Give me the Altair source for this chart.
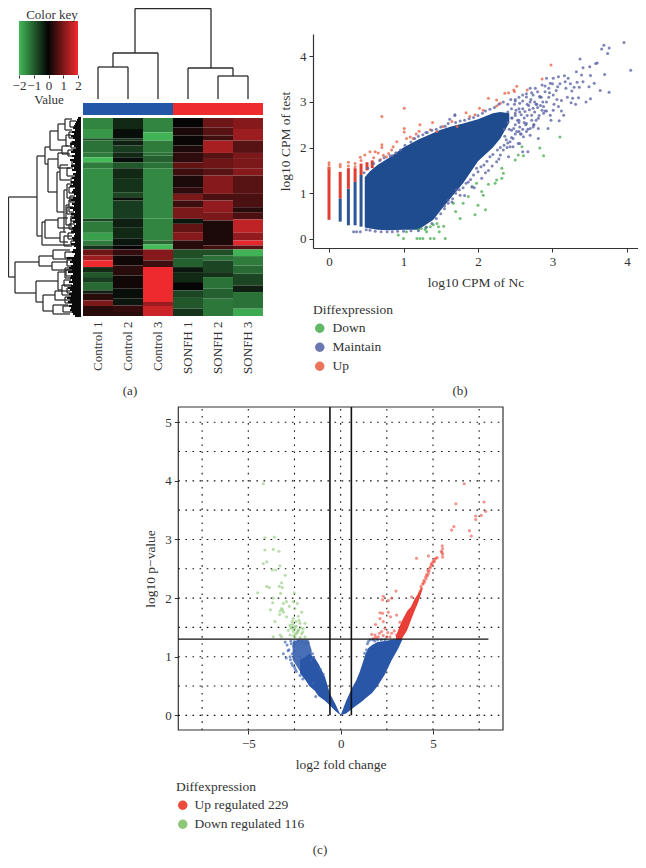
import altair as alt
import pandas as pd

FONT = "Liberation Serif"
INK = "#333333"
W, H = 630, 852


def px(v):
    return v - 8


# ---------- (a) heat map ----------
samples = ["Control 1", "Control 2", "Control 3", "SONFH 1", "SONFH 2", "SONFH 3"]
groups = ["Control", "Control", "Control", "SONFH", "SONFH", "SONFH"]

c1_ends = [50, 78, 84, 120, 135, 150, 168, 320, 328, 362, 385, 400, 412, 430, 445, 465, 480, 495, 510, 535, 545, 565, 582, 612]
c1_vals = [-1.4, -1.6, -0.8, -1.2, -1.3, -2.0, -1.3, -1.5, -0.7, -1.3, -1.7, -1.3, -0.5, 0.9, 1.3, 2.0, -0.4, -0.9, -0.6, -1.1, -0.3, 0.3, 1.0, 0.3]
c2_ends = [50, 78, 85, 100, 120, 135, 150, 168, 200, 240, 255, 265, 320, 345, 380, 400, 412, 430, 460, 490, 530, 560, 580, 600, 612]
c2_vals = [-0.4, -0.1, -0.5, -0.3, -0.6, -0.4, -0.1, -0.9, -0.4, -0.5, -0.7, -0.15, -0.6, -0.3, -0.4, -0.2, 0.0, 0.4, 0.1, 0.3, 0.1, -0.1, -0.2, 0.4, 0.3]
c3_ends = [60, 85, 120, 130, 150, 168, 320, 385, 397, 412, 445, 465, 570, 582, 612]
c3_vals = [-1.4, -1.9, -1.3, -1.2, -1.0, -1.2, -1.45, -1.4, -1.1, -2.0, 1.1, 0.5, 2.0, 1.3, 1.7]
s1_ends = [45, 70, 100, 120, 150, 168, 190, 225, 245, 265, 285, 320, 335, 360, 385, 412, 440, 465, 480, 510, 535, 555, 590, 612]
s1_vals = [0.0, 0.2, 0.05, 0.2, 0.35, 0.8, 0.5, 0.2, 0.35, 1.0, 0.5, 1.0, -0.2, 0.8, 1.1, 0.3, -0.8, -1.0, -0.2, -0.4, 0.0, -0.7, -0.9, -0.5]
s2_ends = [45, 70, 85, 122, 140, 168, 190, 245, 265, 300, 325, 400, 412, 430, 445, 480, 495, 530, 560, 612]
s2_vals = [0.9, 0.7, 0.5, 1.4, 0.7, 0.9, 0.7, 1.1, 0.6, 1.2, 1.0, 0.2, 0.5, -0.8, -1.2, -0.7, -0.5, -1.2, -1.0, -1.25]
s3_ends = [50, 85, 122, 140, 168, 190, 245, 285, 300, 322, 362, 385, 400, 412, 432, 460, 485, 520, 540, 590, 612]
s3_vals = [1.1, 1.3, 0.7, 1.0, 1.0, 1.1, 0.7, 0.6, 0.3, 0.6, 1.6, 1.2, 1.9, 0.7, -1.9, -1.3, -1.1, -0.7, -0.3, -1.2, -1.8]
heat_top = 17
heat_bottom = 612

heat_rows = []
for name, ends, vals in zip(samples, [c1_ends, c2_ends, c3_ends, s1_ends, s2_ends, s3_ends],
                            [c1_vals, c2_vals, c3_vals, s1_vals, s2_vals, s3_vals]):
    start = heat_top
    for e, v in zip(ends, vals):
        heat_rows.append({"sample": name, "y0": start, "y1": e, "v": v})
        start = e
heat_df = pd.DataFrame(heat_rows)

key_values = [-2, -1.9, -1.8, -1.7, -1.6, -1.5, -1.4, -1.3, -1.2, -1.1, -1, -0.9, -0.8, -0.7, -0.6, -0.5, -0.4, -0.3, -0.2, -0.1,
              0, 0.1, 0.2, 0.3, 0.4, 0.5, 0.6, 0.7, 0.8, 0.9, 1, 1.1, 1.2, 1.3, 1.4, 1.5, 1.6, 1.7, 1.8, 1.9, 2]
key_df = pd.DataFrame({"v": key_values,
                       "a": [max(-2, v - 0.08) for v in key_values],
                       "b": [min(2, v + 0.08) for v in key_values]})
heat_color = alt.Scale(domain=[-2, 0, 2], range=["#45bb5a", "#050505", "#ee2a2e"], clamp=True, interpolate="rgb")

sample_x = alt.Scale(domain=samples, range=[px(83), px(263)], paddingInner=0, paddingOuter=0)
heat_y = alt.Scale(domain=[heat_top, heat_bottom], range=[px(118), px(316)], nice=False, zero=False)

heat = alt.Chart(heat_df).mark_rect().encode(
    x=alt.X("sample:N", scale=sample_x, sort=samples, title=None,
            axis=alt.Axis(orient="bottom", offset=px(316) - H, labelAngle=270, domain=False, ticks=False,
                          labelPadding=5, labelFontSize=13, labelFont=FONT, labelColor=INK,
                          labelAlign="right", labelBaseline="middle")),
    y=alt.Y("y0:Q", scale=heat_y, axis=None),
    y2="y1:Q",
    color=alt.Color("v:Q", scale=heat_color, legend=None),
)

bar_df = pd.DataFrame({"sample": samples, "group": groups})
bar = alt.Chart(bar_df).mark_rect().encode(
    x=alt.X("sample:N", scale=sample_x, sort=samples, axis=None),
    y=alt.value(px(103)),
    y2=alt.value(px(115)),
    color=alt.Color("group:N", scale=alt.Scale(domain=["Control", "SONFH"], range=["#2356a6", "#ee2b2f"]), legend=None),
)

key = alt.Chart(key_df).mark_rect().encode(
    x=alt.X("a:Q", scale=alt.Scale(domain=[-2, 2], range=[px(19), px(78)], nice=False, zero=False),
            title="Value",
            axis=alt.Axis(orient="bottom", offset=px(75) - H, values=[-2, -1, 0, 1, 2], format="d", tickSize=3, grid=False,
                          domain=False, tickColor=INK, labelFont=FONT, labelFontSize=13, labelColor=INK,
                          labelPadding=1, labelFlush=False, labelOverlap=False,
                          titleFont=FONT, titleFontSize=13, titleFontWeight="normal", titleColor=INK, titlePadding=1)),
    x2="b:Q",
    y=alt.value(px(21)),
    y2=alt.value(px(75)),
    color=alt.Color("v:Q", scale=heat_color, legend=None),
)

# dendrograms: (height of the join, position a, position b, height of a, height of b)
col_merges = [
    (32, 98, 128, 0, 0),
    (46, 113, 158, 32, 0),
    (23, 218, 248, 0, 0),
    (31, 188, 233, 0, 23),
    (90.5, 135, 211, 46, 31),
]
row_merges = [
    (72.5, 197, 277, 44, 66), (44, 156, 236, 36, 39), (36, 147, 164, 31, 33), (31, 131, 150, 23, 19),
    (23, 124, 140, 16, 15), (16, 119, 130, 9, 9), (15, 135, 146, 10, 9), (19, 146, 154, 13, 11),
    (33, 159, 192, 23, 24), (23, 153, 168, 13, 11), (24, 172, 212, 21, 17), (21, 165, 180, 13, 11),
    (17, 190, 232, 14, 15), (14, 184, 198, 9, 8), (15, 205, 225, 12, 10), (12, 200, 212, 6, 7),
    (10, 218, 230, 6, 6),
    (39, 222, 245, 36, 11), (36, 220, 238, 23, 21), (23, 218, 228, 13, 11), (21, 232, 242, 17, 13),
    (17, 236, 246, 9, 9),
    (66, 262, 293, 42, 45), (42, 256, 266, 28, 29), (28, 250, 259, 11, 11), (29, 262, 270, 13, 9),
    (45, 281, 302, 23, 38), (23, 272, 290, 16, 19), (16, 268, 278, 7, 7), (19, 285, 295, 9, 9),
    (38, 295, 311, 26, 28), (26, 291, 300, 11, 9), (28, 305, 314, 13, 11),
    (11, 121, 127, 5, 5), (12, 132, 138, 6, 5), (10, 142, 148, 5, 4), (13, 150, 156, 7, 5), (9, 160, 165, 4, 4),
    (14, 168, 176, 8, 6), (10, 178, 183, 5, 4), (12, 187, 193, 6, 5), (11, 196, 202, 6, 4), (14, 207, 214, 8, 6),
    (10, 216, 221, 5, 4), (12, 224, 229, 6, 5), (13, 233, 239, 7, 5), (10, 241, 245, 5, 4), (16, 252, 258, 9, 8),
    (14, 260, 266, 8, 7), (15, 270, 276, 9, 8), (17, 280, 286, 10, 9), (14, 288, 293, 8, 7), (16, 297, 303, 10, 8),
    (18, 306, 312, 11, 9),
]
leaf_depth = [3, 4, 5, 6, 7, 8, 6, 9, 7, 10, 8, 6, 9, 11, 7, 5, 8, 10, 6, 9,
              7, 11, 8, 6, 10, 7, 9, 5, 8, 6, 9, 7, 10, 8, 11, 6, 8, 9, 7, 5,
              8, 10, 6, 9, 7, 11, 8, 6, 10, 7, 9, 6, 8, 5, 7, 9, 8, 10, 6, 7,
              9, 8, 6, 10, 7, 5, 8, 9, 6, 7, 14, 9, 11, 8, 10, 12, 9, 13, 8, 10,
              11, 9, 12, 8, 10, 13, 11, 9, 12, 10, 14, 11, 13, 9, 12, 10, 11, 9, 8, 6]

dendro_col_rows = []
for h, a, b, ha, hb in col_merges:
    dendro_col_rows += [{"x": a, "x2": b, "h": h, "h2": h}, {"x": a, "x2": a, "h": ha, "h2": h}, {"x": b, "x2": b, "h": hb, "h2": h}]
dendro_col = alt.Chart(pd.DataFrame(dendro_col_rows)).mark_rule(color="#2b2b2b", strokeWidth=1.3).encode(
    x=alt.X("x:Q", scale=alt.Scale(domain=[83, 263], range=[px(83), px(263)], nice=False, zero=False), axis=None),
    x2="x2:Q",
    y=alt.Y("h:Q", scale=alt.Scale(domain=[0, 95], range=[px(99), px(4)], nice=False, zero=False), axis=None),
    y2="h2:Q",
)

row_x = alt.Scale(domain=[0, 80], range=[px(81), px(1)], nice=False, zero=False)
row_y = alt.Scale(domain=[118, 316], range=[px(118), px(316)], nice=False, zero=False)
dendro_row_rows = []
for h, a, b, ha, hb in row_merges:
    dendro_row_rows += [{"h": h, "h2": h, "r": a, "r2": b}, {"h": ha, "h2": h, "r": a, "r2": a}, {"h": hb, "h2": h, "r": b, "r2": b}]
dendro_row = alt.Chart(pd.DataFrame(dendro_row_rows)).mark_rule(color="#2b2b2b", strokeWidth=1.25).encode(
    x=alt.X("h:Q", scale=row_x, axis=None),
    x2="h2:Q",
    y=alt.Y("r:Q", scale=row_y, axis=None),
    y2="r2:Q",
)
leaf_df = pd.DataFrame({"h": [0] * len(leaf_depth), "h2": leaf_depth, "r": [118 + 2 * i for i in range(len(leaf_depth))]})
leaves = alt.Chart(leaf_df).mark_rule(color="#0c0c0c", strokeWidth=2.1).encode(
    x=alt.X("h:Q", scale=row_x, axis=None),
    x2="h2:Q",
    y=alt.Y("r:Q", scale=row_y, axis=None),
)
layer_rows = alt.layer(dendro_row, leaves)

# ---------- (b) scatter ----------
band_x = [0.48, 0.55, 0.65, 0.8, 1.0, 1.2, 1.4, 1.5, 1.65, 1.8, 2.0, 2.2, 2.3, 2.42]
band_hi = [1.35, 1.48, 1.62, 1.77, 2.0, 2.18, 2.32, 2.39, 2.47, 2.53, 2.62, 2.75, 2.78, 2.75]
band_lo = [0.25, 0.23, 0.2, 0.19, 0.2, 0.2, 0.42, 0.63, 0.93, 1.22, 1.7, 2.0, 2.2, 2.55]

stripe_m_x = [0.15, 0.26, 0.35, 0.43]
stripe_m_lo = [0.38, 0.3, 0.3, 0.27]
stripe_m_hi = [0.89, 1.1, 1.25, 1.4]
stripe_u_x = [0.0, 0.15, 0.26, 0.35, 0.43, 0.51, 0.58]
stripe_u_lo = [0.42, 0.89, 1.1, 1.25, 1.4, 1.5, 1.55]
stripe_u_hi = [1.58, 1.47, 1.55, 1.55, 1.65, 1.68, 1.72]

up_x = [0.71, 1.01, 2.98, 1.01, 1.01, 1.22, 1.21, 1.39, 1.36, 1.53, 1.65, 1.72, 0.91, 1.04, 1.09, 0.71, 0.71, 0.84, 0.77, 0.55,
        0.62, 0.66, 0.48, 0.42, 1.89, 2.02, 2.07, 2.14, 2.25, 2.36, 2.41, 2.49, 2.52, 2.48, 2.66, 2.86, 2.3, 2.25, 1.45, 1.13,
        0.0, 0.0, 0.0, 0.15, 0.15, 0.26, 0.26, 0.35, 0.35, 0.43, 0.6, 0.69, 0.73, 0.8, 0.86, 1.17, 1.84, 1.96]
up_y = [2.68, 2.86, 3.81, 2.42, 2.34, 2.5, 2.36, 2.55, 2.39, 2.46, 2.57, 2.46, 2.13, 2.2, 2.23, 2.06, 2.0, 1.95, 1.8, 1.91,
        1.91, 1.88, 1.84, 1.79, 2.68, 2.86, 2.82, 3.08, 3.04, 3.19, 3.2, 3.23, 3.34, 3.26, 3.26, 3.5, 2.97, 2.91, 2.35, 2.2,
        1.62, 1.67, 1.54, 1.58, 1.63, 1.6, 1.68, 1.58, 1.65, 1.72, 1.78, 1.74, 1.83, 1.87, 2.02, 2.3, 2.76, 2.72]
down_x = [1.0, 0.93, 1.18, 1.22, 1.26, 1.36, 1.41, 1.56, 1.04, 1.2, 1.24, 1.29, 1.31, 1.36, 1.4, 1.31, 1.45, 1.47, 1.54, 1.48,
          1.76, 1.96, 2.1, 1.7, 1.8, 1.67, 1.87, 2.0, 2.07, 2.05, 1.92, 1.98, 2.14, 2.23, 2.25, 2.32, 2.34, 2.32, 2.5, 2.54,
          2.61, 2.59, 2.83, 2.88, 3.1]
down_y = [0.01, 0.09, 0.01, 0.01, 0.01, 0.01, 0.01, 0.01, 0.16, 0.2, 0.23, 0.21, 0.16, 0.27, 0.31, 0.26, 0.34, 0.27, 0.28, 0.16,
          0.45, 0.53, 0.64, 0.6, 0.78, 0.78, 0.93, 0.74, 0.96, 1.04, 1.15, 1.22, 1.2, 1.22, 1.29, 1.33, 1.44, 1.55, 1.73, 1.84,
          1.82, 2.02, 1.99, 1.82, 2.23]
keep_x = [3.96, 4.05, 3.69, 3.76, 3.66, 3.74, 3.37, 3.6, 3.58, 3.32, 3.41, 3.5, 3.39, 3.51, 3.7, 3.33, 3.41, 3.56, 3.49, 3.64,
          3.76, 3.45, 3.51, 3.35, 3.31, 3.25, 3.27, 3.29, 3.36, 3.26, 2.92, 3.01, 3.08, 3.16, 3.21, 3.17, 3.07, 2.97, 2.86, 2.77,
          2.7, 2.9, 3.01, 2.83, 2.76, 2.65, 2.56, 2.92, 3.06, 3.12, 3.08, 3.15, 3.01, 2.97, 2.88, 2.81, 2.72, 2.63, 2.51, 3.09,
          2.94, 2.81, 2.7, 2.81, 2.61, 2.56, 2.43, 2.47, 2.74, 2.65, 2.56, 2.45, 2.86, 2.74, 2.41, 2.25, 2.14, 2.05, 1.92, 1.76,
          1.65, 1.55, 2.6, 2.67, 2.54, 2.38, 2.43, 2.3, 2.0, 1.87, 1.71, 1.6, 1.69, 2.5, 2.55, 2.6, 2.66, 2.72, 2.8, 2.87,
          2.53, 2.58, 2.64, 2.69, 2.78, 2.84, 2.9, 2.96, 2.49, 2.42, 2.36, 2.47, 2.52, 2.57, 2.62, 2.67, 2.71, 2.75, 2.79, 2.83,
          2.5, 2.55, 2.46, 2.34, 2.28, 2.19, 2.1, 1.95, 1.82, 2.39, 0.9, 0.85, 1.3, 1.62,
          1.1, 1.15, 1.2, 1.26, 1.32, 1.38, 1.44, 1.5, 1.56, 1.6, 1.69, 1.7, 1.76, 1.82, 1.88, 1.94, 2.0, 2.06, 2.1, 2.16,
          2.22, 2.28, 2.34, 2.4, 2.44, 2.5, 2.55,
          1.5, 1.55, 1.6, 1.66, 1.7, 1.75, 1.8, 1.84, 1.9, 1.94, 1.98, 2.04, 2.08, 2.12, 2.16, 2.2, 2.26, 2.3, 2.35, 2.4,
          2.45, 2.5, 2.55, 2.6, 2.65, 2.7, 2.75,
          2.35, 2.4, 2.45, 2.4, 2.45, 2.5, 2.55, 2.5, 2.56, 2.6, 2.62, 2.66, 2.68, 2.72, 2.76, 2.78, 2.82, 2.85, 2.88, 2.92,
          2.95, 2.98, 3.02, 3.05, 3.1, 3.12, 3.18, 3.2, 3.24, 2.7, 2.74, 2.6, 2.65, 2.8, 2.95, 3.0, 2.9, 2.58, 2.48,
          0.33, 0.37, 0.42, 0.5, 0.55, 0.62, 0.7, 0.78, 0.85, 0.92, 1.0, 1.1, 1.2, 1.3, 1.38, 1.44,
          0.47, 0.52, 0.6, 0.68, 0.74, 0.82, 0.9, 0.96, 1.02]
keep_y = [4.3, 3.69, 4.24, 4.18, 4.16, 4.06, 3.94, 3.85, 3.84, 3.66, 3.75, 3.77, 3.59, 3.58, 3.6, 3.43, 3.44, 3.41, 3.33, 3.25,
          3.21, 3.0, 3.07, 3.09, 2.95, 2.98, 3.08, 3.32, 3.32, 3.24, 3.52, 3.52, 3.55, 3.57, 3.52, 3.44, 3.33, 3.41, 3.37, 3.3,
          3.3, 3.22, 3.15, 3.11, 3.0, 3.11, 2.97, 3.0, 3.05, 3.03, 2.9, 2.71, 2.82, 2.71, 2.75, 2.64, 2.71, 2.79, 2.82, 2.59,
          2.42, 2.42, 2.27, 2.2, 2.24, 2.09, 2.13, 2.02, 2.45, 2.53, 2.45, 2.38, 2.82, 2.86, 1.8, 1.69, 1.5, 1.33, 1.14, 0.96,
          0.81, 0.66, 1.91, 1.91, 2.09, 2.17, 2.02, 1.84, 1.47, 1.25, 1.07, 0.78, 2.7, 3.05, 2.85, 3.15, 2.95, 3.2, 2.88, 3.0,
          2.6, 2.72, 2.5, 2.83, 2.6, 2.92, 2.8, 3.2, 2.95, 2.4, 2.25, 2.2, 2.35, 2.3, 2.65, 2.4, 3.05, 2.5, 2.95, 3.12,
          2.75, 2.55, 2.65, 1.95, 1.75, 1.6, 1.45, 1.12, 0.95, 2.0, 1.88, 1.82, 2.33, 2.62,
          2.12, 2.2, 2.25, 2.28, 2.33, 2.38, 2.4, 2.45, 2.47, 2.53, 2.72, 2.55, 2.58, 2.6, 2.63, 2.66, 2.7, 2.75, 2.8, 2.84,
          2.88, 2.95, 3.0, 2.95, 3.05, 3.02, 3.1,
          0.55, 0.72, 0.85, 0.88, 1.0, 1.08, 1.12, 1.22, 1.3, 1.4, 1.55, 1.58, 1.62, 1.7, 1.8, 1.85, 1.95, 2.0, 2.05, 2.1,
          2.22, 2.3, 2.35, 2.4, 2.35, 2.42, 2.5,
          2.4, 2.55, 2.65, 2.78, 2.85, 2.5, 2.6, 2.7, 2.78, 2.85, 2.55, 2.7, 2.92, 2.6, 2.78, 2.95, 2.7, 3.1, 2.9, 2.8,
          3.1, 2.6, 2.95, 3.25, 3.4, 2.8, 3.3, 3.1, 3.4, 3.0, 3.15, 3.02, 3.18, 3.22, 3.3, 3.4, 3.35, 2.3, 2.42,
          0.16, 0.16, 0.16, 0.2, 0.19, 0.17, 0.16, 0.16, 0.16, 0.17, 0.17, 0.18, 0.18, 0.25, 0.34, 0.45,
          1.45, 1.55, 1.65, 1.72, 1.78, 1.82, 1.88, 1.95, 2.05]

x_b = alt.Scale(domain=[-0.215, 4.148], range=[px(313), px(638)], nice=False, zero=False)
y_b = alt.Scale(domain=[-0.197, 4.486], range=[px(248), px(34)], nice=False, zero=False)

scatter_axis_x = alt.Axis(orient="bottom", offset=px(248) - H, values=[0, 1, 2, 3, 4], format="d", grid=False, domainColor=INK,
                          domainWidth=1.2, tickColor=INK, tickSize=4, labelFont=FONT, labelFontSize=13, labelColor=INK,
                          labelPadding=3, titleFont=FONT, titleFontSize=13.5, titleFontWeight="normal", titleColor=INK,
                          titlePadding=7)
scatter_axis_y = alt.Axis(orient="left", offset=-px(313), values=[0, 1, 2, 3, 4], format="d", grid=False, domainColor=INK,
                          domainWidth=1.2, tickColor=INK, tickSize=4, labelFont=FONT, labelFontSize=13, labelColor=INK,
                          labelPadding=3, titleFont=FONT, titleFontSize=13.5, titleFontWeight="normal", titleColor=INK,
                          titlePadding=7)

band_df = pd.DataFrame({"x": band_x, "hi": band_hi, "lo": band_lo})
b_band = alt.Chart(band_df).mark_area(color="#1f4c8f").encode(
    x=alt.X("x:Q", scale=x_b, title="log10 CPM of Nc", axis=scatter_axis_x),
    y=alt.Y("hi:Q", scale=y_b, title="log10 CPM of test", axis=scatter_axis_y),
    y2="lo:Q",
)


def stripes(xs, lo, hi, colour):
    return alt.Chart(pd.DataFrame({"x": xs, "lo": lo, "hi": hi})).mark_rule(strokeWidth=3, color=colour).encode(
        x=alt.X("x:Q", scale=x_b, axis=None),
        y=alt.Y("lo:Q", scale=y_b, axis=None),
        y2="hi:Q",
    )


b_stripes_m = stripes(stripe_m_x, stripe_m_lo, stripe_m_hi, "#2b5595")
b_stripes_u = stripes(stripe_u_x, stripe_u_lo, stripe_u_hi, "#e23f33")
points_b = pd.DataFrame({
    "x": up_x + down_x + keep_x,
    "y": up_y + down_y + keep_y,
    "Diffexpression": ["Up"] * len(up_x) + ["Down"] * len(down_x) + ["Maintain"] * len(keep_x),
})
b_points = alt.Chart(points_b).mark_circle(size=9, opacity=0.8).encode(
    x=alt.X("x:Q", scale=x_b, axis=None),
    y=alt.Y("y:Q", scale=y_b, axis=None),
    color=alt.Color("Diffexpression:N",
                    scale=alt.Scale(domain=["Down", "Maintain", "Up"], range=["#4fb058", "#5c67a6", "#e8654a"]),
                    legend=alt.Legend(orient="none", legendX=px(313), legendY=px(303), title="Diffexpression",
                                      titleFont=FONT, titleFontSize=13.5, titleFontWeight="normal", titleColor=INK,
                                      labelFont=FONT, labelFontSize=13.5, labelColor=INK, symbolSize=90,
                                      symbolOpacity=0.9, symbolType="circle", rowPadding=4, titlePadding=5, labelOffset=6)),
)
layer_b = alt.layer(b_band, b_stripes_m, b_stripes_u, b_points).resolve_axis(x="independent", y="independent")

# ---------- (c) volcano ----------
x_c = alt.Scale(domain=[-8.79, 8.79], range=[px(178.3), px(503)], nice=False, zero=False)
y_c = alt.Scale(domain=[-0.25, 5.26], range=[px(730), px(407)], nice=False, zero=False)

grid_x = [-7.5, -5, -2.5, 0, 2.5, 5, 7.5]
grid_y = [0, 0.5, 1, 1.5, 2, 2.5, 3, 3.5, 4, 4.5, 5]
x_min, x_max, y_min, y_max = -8.79, 8.79, -0.25, 5.26

right_x = [0, 0.3, 0.6, 0.85, 1.04, 1.2, 1.35, 1.5, 1.7, 2.0, 2.4, 2.76, 3.12, 3.35]
right_hi = [0, 0.25, 0.46, 0.6, 0.75, 0.9, 1.05, 1.15, 1.2, 1.25, 1.27, 1.29, 1.3, 1.3]
right_lo = [0, 0.03, 0.11, 0.17, 0.21, 0.25, 0.29, 0.33, 0.38, 0.5, 0.7, 0.94, 1.14, 1.3]
left_x = [-2.2, -1.9, -1.7, -1.4, -1.2, -0.85, -0.58, -0.3, 0]
left_hi = [0.95, 1.0, 1.05, 0.98, 0.88, 0.66, 0.37, 0.2, 0]
left_lo = [0.72, 0.6, 0.5, 0.42, 0.33, 0.25, 0.17, 0.08, 0]
pale_x = [-2.6, -2.3, -2.0, -1.75, -1.57]
pale_hi = [1.25, 1.29, 1.29, 1.29, 1.11]
pale_lo = [0.95, 0.8, 0.65, 0.57, 0.48]
hot_x = [3.0, 3.3, 3.6, 3.8, 4.0, 4.2, 4.4]
hot_hi = [1.36, 1.6, 1.78, 1.85, 1.98, 2.08, 2.2]
hot_lo = [1.3, 1.3, 1.45, 1.62, 1.78, 1.93, 2.12]

volcano_up_x = [6.69, 6.24, 7.76, 7.85, 7.61, 7.31, 7.31, 6.13, 6.01, 6.97, 7.07, 5.5, 5.52, 5.52, 4.11, 4.75, 5.23, 5.07, 4.93, 4.83,
                4.75, 4.62, 4.47, 4.38, 4.26, 4.15, 4.02, 3.84, 3.0, 2.31, 2.76, 2.27, 2.58, 2.13, 2.27, 2.58, 3.03, 2.7, 1.89, 2.13,
                2.31, 3.21, 1.68, 1.86, 2.22, 2.4, 2.76, 3.03, 1.77, 2.04, 2.49, 2.67, 5.48, 5.45, 5.52, 1.9, 2.1, 2.3, 2.55, 2.9,
                4.3, 4.35, 4.45, 4.5, 4.55, 4.6, 4.65, 4.7, 4.72, 4.78, 4.85, 4.9, 4.97, 5.02, 5.1, 5.15]
volcano_up_y = [3.95, 3.61, 3.64, 3.48, 3.41, 3.4, 3.34, 3.22, 3.16, 3.15, 3.06, 2.89, 2.84, 2.7, 2.68, 2.72, 2.69, 2.62, 2.56, 2.51,
                2.42, 2.33, 2.25, 2.16, 2.08, 1.99, 1.88, 2.02, 2.12, 2.03, 2.0, 1.97, 1.96, 1.75, 1.74, 1.76, 1.71, 1.68, 1.55, 1.65,
                1.6, 1.59, 1.38, 1.37, 1.43, 1.48, 1.4, 1.37, 1.31, 1.34, 1.34, 1.34, 2.78, 2.8, 2.75, 1.33, 1.4, 1.36, 1.41, 1.44,
                2.12, 2.2, 2.24, 2.3, 2.28, 2.36, 2.4, 2.38, 2.47, 2.46, 2.53, 2.58, 2.6, 2.63, 2.66, 2.68]
volcano_down_x = [-4.19, -4.1, -3.59, -4.1, -3.65, -3.34, -4.19, -4.0, -3.29, -3.7, -3.52, -3.0, -3.2, -4.0, -3.86, -3.32, -3.16, -2.51, -4.49, -3.25,
                  -3.65, -3.68, -3.8, -3.2, -3.28, -3.1, -2.93, -3.1, -2.56, -2.35, -2.48, -2.78, -2.11, -2.29, -2.56, -2.93, -3.56, -2.74, -2.47, -2.2,
                  -1.93, -2.02, -2.56, -2.38, -2.74, -3.28, -3.65, -2.11, -1.93, -2.65, -2.29, -2.83, -3.2, -2.47, -2.2, -2.6, -2.5, -2.4, -2.3, -2.45,
                  -2.55, -2.35, -2.7, -2.62, -2.42, -2.15, -2.05, -3.3, -3.15, -2.25]
volcano_down_y = [3.95, 3.03, 3.04, 2.82, 2.83, 2.8, 2.59, 2.62, 2.55, 2.48, 2.48, 2.39, 2.26, 2.2, 2.18, 2.2, 2.18, 2.09, 2.09, 2.08,
                  2.0, 1.92, 1.8, 1.82, 1.78, 1.76, 1.94, 1.91, 1.94, 1.91, 1.82, 1.86, 1.76, 1.69, 1.65, 1.68, 1.6, 1.54, 1.51, 1.57,
                  1.57, 1.48, 1.43, 1.4, 1.37, 1.37, 1.34, 1.39, 1.34, 1.48, 1.46, 1.45, 1.34, 1.34, 1.33, 1.55, 1.47, 1.52, 1.44, 1.38,
                  1.36, 1.42, 1.5, 1.6, 1.6, 1.49, 1.42, 1.72, 1.8, 1.62]
volcano_rest_x = [-3.1, -2.9, -2.74, -2.65, -2.85, -3.0, -2.6, -2.45, -1.6, -1.5, -1.35, -2.7, -2.5, -2.3, -2.1, -1.9, -1.75,
                  1.5, 1.6, 1.75, 1.85, 1.45, 1.4, 1.3, 2.0, 2.2, 2.4,
                  -2.95, -2.8, -2.68, -2.72, -2.55, -2.62, -2.4, -2.5, -1.52, -1.45, -1.1, -0.95, -2.2, -2.05]
volcano_rest_y = [1.05, 1.2, 1.0, 0.89, 1.1, 1.25, 0.85, 0.78, 0.95, 0.55, 0.32, 1.27, 1.26, 1.27, 1.25, 1.22, 1.24,
                  1.26, 1.29, 1.29, 1.27, 1.22, 1.12, 1.06, 1.29, 1.29, 1.29,
                  0.98, 1.12, 1.22, 0.95, 1.18, 1.05, 0.75, 0.82, 1.05, 0.98, 0.78, 0.7, 0.68, 0.62]

frame_df = pd.DataFrame({"a": [x_min], "b": [x_max], "c": [y_min], "d": [y_max]})
c_frame = alt.Chart(frame_df).mark_rect(fillOpacity=0, stroke=INK, strokeWidth=1.2).encode(
    x=alt.X("a:Q", scale=x_c, title="log2 fold change",
            axis=alt.Axis(orient="bottom", offset=px(730) - H, values=[-5, 0, 5], format="d", grid=False, domain=False,
                          tickColor=INK, tickSize=4, labelFont=FONT, labelFontSize=13, labelColor=INK, labelPadding=3,
                          titleFont=FONT, titleFontSize=13.5, titleFontWeight="normal", titleColor=INK, titlePadding=7)),
    x2="b:Q",
    y=alt.Y("c:Q", scale=y_c, title="log10 p−value",
            axis=alt.Axis(orient="left", offset=-px(178.3), values=[0, 1, 2, 3, 4, 5], format="d", grid=False, domain=False,
                          tickColor=INK, tickSize=4, labelFont=FONT, labelFontSize=13, labelColor=INK, labelPadding=3,
                          titleFont=FONT, titleFontSize=13.5, titleFontWeight="normal", titleColor=INK, titlePadding=7)),
    y2="d:Q",
)
c_gridx = alt.Chart(pd.DataFrame({"x": grid_x, "a": [y_min] * len(grid_x), "b": [y_max] * len(grid_x)})).mark_rule(
    color="#111111", strokeWidth=1.1, strokeDash=[1.6, 5.5]).encode(
    x=alt.X("x:Q", scale=x_c, axis=None), y=alt.Y("a:Q", scale=y_c, axis=None), y2="b:Q")
c_gridy = alt.Chart(pd.DataFrame({"y": grid_y, "a": [x_min] * len(grid_y), "b": [x_max] * len(grid_y)})).mark_rule(
    color="#111111", strokeWidth=1.1, strokeDash=[1.6, 5.5]).encode(
    y=alt.Y("y:Q", scale=y_c, axis=None), x=alt.X("a:Q", scale=x_c, axis=None), x2="b:Q")


def wing(xs, hi, lo, colour, opacity=1.0):
    return alt.Chart(pd.DataFrame({"x": xs, "hi": hi, "lo": lo})).mark_area(color=colour, opacity=opacity).encode(
        x=alt.X("x:Q", scale=x_c, axis=None), y=alt.Y("hi:Q", scale=y_c, axis=None), y2="lo:Q")


c_pale = wing(pale_x, pale_hi, pale_lo, "#3560ae", 0.9)
c_left = wing(left_x, left_hi, left_lo, "#2a56a8")
c_right = wing(right_x, right_hi, right_lo, "#2a56a8")
c_hot = wing(hot_x, hot_hi, hot_lo, "#e8352c", 0.95)
c_rest = alt.Chart(pd.DataFrame({"x": volcano_rest_x, "y": volcano_rest_y})).mark_circle(size=9, color="#3f66b0", opacity=0.7).encode(
    x=alt.X("x:Q", scale=x_c, axis=None), y=alt.Y("y:Q", scale=y_c, axis=None))
points_c = pd.DataFrame({
    "x": volcano_up_x + volcano_down_x,
    "y": volcano_up_y + volcano_down_y,
    "Diffexpression": ["Up regulated 229"] * len(volcano_up_x) + ["Down regulated 116"] * len(volcano_down_x),
})
c_points = alt.Chart(points_c).mark_circle(size=10, opacity=0.6).encode(
    x=alt.X("x:Q", scale=x_c, axis=None),
    y=alt.Y("y:Q", scale=y_c, axis=None),
    color=alt.Color("Diffexpression:N",
                    scale=alt.Scale(domain=["Up regulated 229", "Down regulated 116"], range=["#ee4a3c", "#8cc878"]),
                    legend=alt.Legend(orient="none", legendX=px(176), legendY=px(780), title="Diffexpression",
                                      titleFont=FONT, titleFontSize=13.5, titleFontWeight="normal", titleColor=INK,
                                      labelFont=FONT, labelFontSize=13.5, labelColor=INK, symbolSize=90,
                                      symbolOpacity=1, symbolType="circle", rowPadding=4, titlePadding=5, labelOffset=5)),
)
c_vlines = alt.Chart(pd.DataFrame({"x": [-0.58, 0.58], "a": [0, 0], "b": [y_max, y_max]})).mark_rule(color="#111111", strokeWidth=1.6).encode(
    x=alt.X("x:Q", scale=x_c, axis=None), y=alt.Y("a:Q", scale=y_c, axis=None), y2="b:Q")
c_hline = alt.Chart(pd.DataFrame({"y": [1.3], "a": [x_min], "b": [8.0]})).mark_rule(color="#111111", strokeWidth=1.1).encode(
    y=alt.Y("y:Q", scale=y_c, axis=None), x=alt.X("a:Q", scale=x_c, axis=None), x2="b:Q")
layer_c = alt.layer(c_frame, c_gridx, c_gridy, c_pale, c_left, c_right, c_rest, c_hot, c_points, c_vlines, c_hline).resolve_axis(x="independent", y="independent")


# ---------- free text ----------
def note(text, x, y, baseline="middle", size=13):
    return alt.Chart(pd.DataFrame({"t": [text]})).mark_text(font=FONT, fontSize=size, color=INK, align="center", baseline=baseline).encode(
        text="t:N", x=alt.value(px(x)), y=alt.value(px(y)))


chart = alt.layer(
    key, dendro_col, bar, heat, layer_rows, layer_b, layer_c,
    note("Color key", 52, 19, "alphabetic", 13), note("(a)", 130, 391), note("(b)", 460, 391), note("(c)", 320, 850),
).resolve_scale(x="independent", y="independent", color="independent").properties(
    width=W, height=H, padding=0, autosize=alt.AutoSizeParams(type="none")
).configure_view(strokeWidth=0)

chart.save("out.html", embed_options={"renderer": "svg", "actions": False})
